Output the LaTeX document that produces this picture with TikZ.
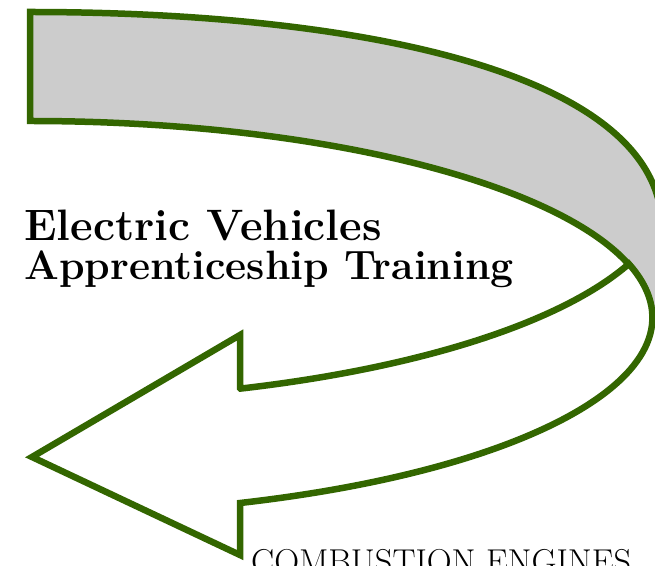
\documentclass[tikz,border=0pt]{standalone}
\usetikzlibrary{positioning}

\definecolor{arrowGreen}{HTML}{336600}
\definecolor{bandGray}{HTML}{CCCCCC}

\begin{document}
\begin{tikzpicture}[
    x=1pt, y=1pt,
    band/.style = {
        draw=arrowGreen,
        line width=6.5pt,
    },
    backBand/.style = {
        band,
        fill=bandGray,
    },
    frontShaft/.style = {
        band,
        fill=white,
    },
    titleText/.style = {
        inner sep=0pt,
        align=left,
        anchor=base west,
        font=\bfseries,
    },
    footText/.style = {
        inner sep=0pt,
        anchor=base west,
    },
]
\useasboundingbox (0,0) rectangle (655,565);
\clip (0,0) rectangle (655,565);

% back of the band
\draw[backBand] (30,553) .. controls (350,553) and (670,495) .. (662,330)
    -- (662,247) -- (652,247)
    arc[start angle=0, end angle=90, x radius=622, y radius=197]
    -- cycle;

% front of the band with the head
\draw[frontShaft] (240,177) -- (240,230) -- (32,108) -- (240,10) -- (240,62)
    arc[start angle=-70.3, end angle=15.8, x radius=622, y radius=197]
    arc[start angle=-20.7, end angle=-70.8, x radius=640, y radius=211]
    -- cycle;

\node[titleText] (Title) at (24,285) {%
    \fontsize{44}{44}\selectfont Electric Vehicles\\[9pt]
    \fontsize{41}{41}\selectfont Apprenticeship Training};

\node[footText] (Footer) at (251,-8) {\fontsize{34.5}{34.5}\selectfont COMBUSTION ENGINES};

\end{tikzpicture}
\end{document}
